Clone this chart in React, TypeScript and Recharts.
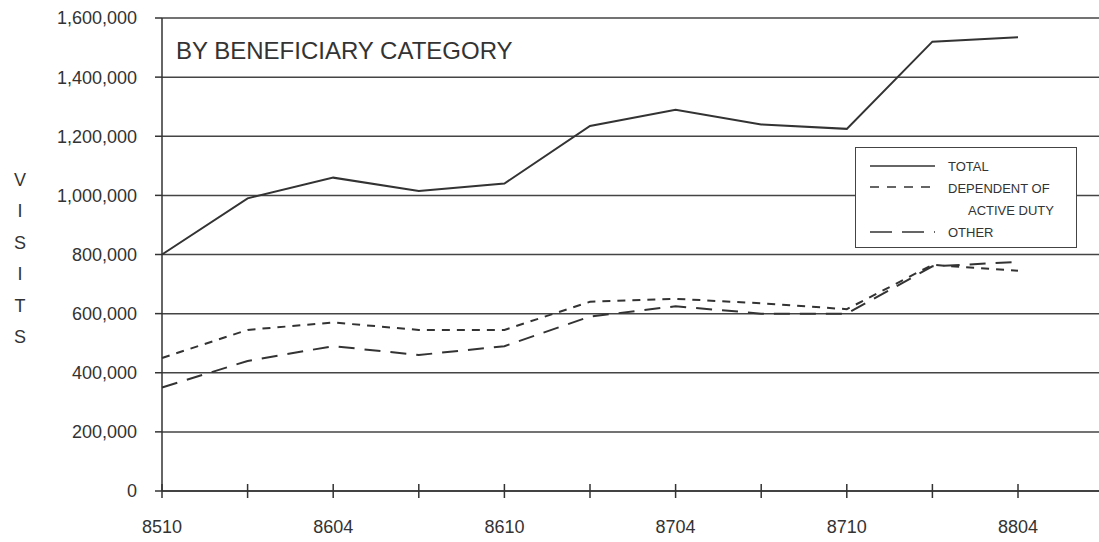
import React from 'react';
import { LineChart, Line, XAxis, YAxis, CartesianGrid } from 'recharts';

const categories = ['8510', '8601', '8604', '8607', '8610', '8701', '8704', '8707', '8710', '8801', '8804'];
const totalVisits = [800000, 990000, 1060000, 1015000, 1040000, 1235000, 1290000, 1240000, 1225000, 1520000, 1535000];
const dependentVisits = [450000, 545000, 570000, 545000, 545000, 640000, 650000, 635000, 615000, 765000, 745000];
const otherVisits = [350000, 440000, 490000, 460000, 490000, 590000, 625000, 600000, 600000, 760000, 775000];
const xTickLabels = ['8510', '8604', '8610', '8704', '8710', '8804'];
const yTicks = [0, 200000, 400000, 600000, 800000, 1000000, 1200000, 1400000, 1600000];
const yAxisLetters = ['V', 'I', 'S', 'I', 'T', 'S'];
const title = 'BY BENEFICIARY CATEGORY';
const legendLabels = ['TOTAL', 'DEPENDENT OF', 'ACTIVE DUTY', 'OTHER'];

const data = categories.map((c, i) => ({
  period: c,
  total: totalVisits[i],
  dependent: dependentVisits[i],
  other: otherVisits[i],
}));

const FONT = '"Liberation Sans", Arial, Helvetica, sans-serif';
const INK = '#333';

const XTick = (props: any) => {
  const { x, y, payload } = props;
  return (
    <g>
      <line x1={x} x2={x} y1={y - 7} y2={y + 7} stroke={INK} strokeWidth={1.5} />
      {xTickLabels.includes(payload.value) && (
        <text x={x} y={y + 42} textAnchor="middle" fontSize={18} fontFamily={FONT} fill={INK}>
          {payload.value}
        </text>
      )}
    </g>
  );
};

const LegendBox = () => (
  <div
    style={{
      position: 'absolute',
      left: 855,
      top: 147,
      width: 222,
      height: 101,
      border: '1.5px solid #444',
      boxSizing: 'border-box',
      background: '#fff',
    }}
  >
    <svg width={219} height={98} style={{ position: 'absolute', left: 0, top: 0 }}>
      <line x1={14} x2={79} y1={18} y2={18} stroke={INK} strokeWidth={1.5} />
      <line x1={14} x2={79} y1={39} y2={39} stroke={INK} strokeWidth={1.5} strokeDasharray="9 8" />
      <line x1={14} x2={79} y1={84} y2={84} stroke={INK} strokeWidth={1.5} strokeDasharray="22 10" />
      <text x={92} y={23} fontSize={13} fontFamily={FONT} fill={INK}>{legendLabels[0]}</text>
      <text x={92} y={45} fontSize={13} fontFamily={FONT} fill={INK}>{legendLabels[1]}</text>
      <text x={112} y={67} fontSize={13} fontFamily={FONT} fill={INK}>{legendLabels[2]}</text>
      <text x={92} y={89} fontSize={13} fontFamily={FONT} fill={INK}>{legendLabels[3]}</text>
    </svg>
  </div>
);

export default function App() {
  return (
    <div style={{ position: 'absolute', left: 0, top: 0, width: 1099, height: 542, background: '#fff' }}>
      <LineChart
        width={1099}
        height={542}
        data={data}
        margin={{ top: 18, right: 0, bottom: 0, left: 0 }}
      >
        <CartesianGrid horizontal vertical={false} stroke="#444" strokeWidth={1.5} />
        <XAxis
          dataKey="period"
          height={51}
          padding={{ left: 0, right: 81 }}
          interval={0}
          tickLine={false}
          tickSize={0}
          tickMargin={0}
          tick={<XTick />}
          axisLine={{ stroke: INK, strokeWidth: 1.5 }}
        />
        <YAxis
          width={162}
          domain={[0, 1600000]}
          ticks={yTicks}
          interval={0}
          tickSize={7}
          tickMargin={18}
          tickLine={{ stroke: INK, strokeWidth: 1.5 }}
          axisLine={{ stroke: INK, strokeWidth: 1.5 }}
          tick={{ fontSize: 18, fontFamily: FONT, fill: INK }}
          tickFormatter={(v: number) => v.toLocaleString('en-US')}
        />
        <Line type="linear" dataKey="total" name="TOTAL" stroke={INK} strokeWidth={2} dot={false} isAnimationActive={false} />
        <Line type="linear" dataKey="dependent" name="DEPENDENT OF ACTIVE DUTY" stroke={INK} strokeWidth={2} strokeDasharray="8 7" dot={false} isAnimationActive={false} />
        <Line type="linear" dataKey="other" name="OTHER" stroke={INK} strokeWidth={2} strokeDasharray="16 10" dot={false} isAnimationActive={false} />
      </LineChart>
      <LegendBox />
      <svg width={1099} height={542} style={{ position: 'absolute', left: 0, top: 0, pointerEvents: 'none' }}>
        <text x={176} y={59} fontSize={24} fontFamily={FONT} fill={INK}>{title}</text>
        {yAxisLetters.map((ch, i) => (
          <text key={i} x={20} y={186 + i * 31.4} textAnchor="middle" fontSize={18} fontFamily={FONT} fill={INK}>
            {ch}
          </text>
        ))}
      </svg>
    </div>
  );
}
